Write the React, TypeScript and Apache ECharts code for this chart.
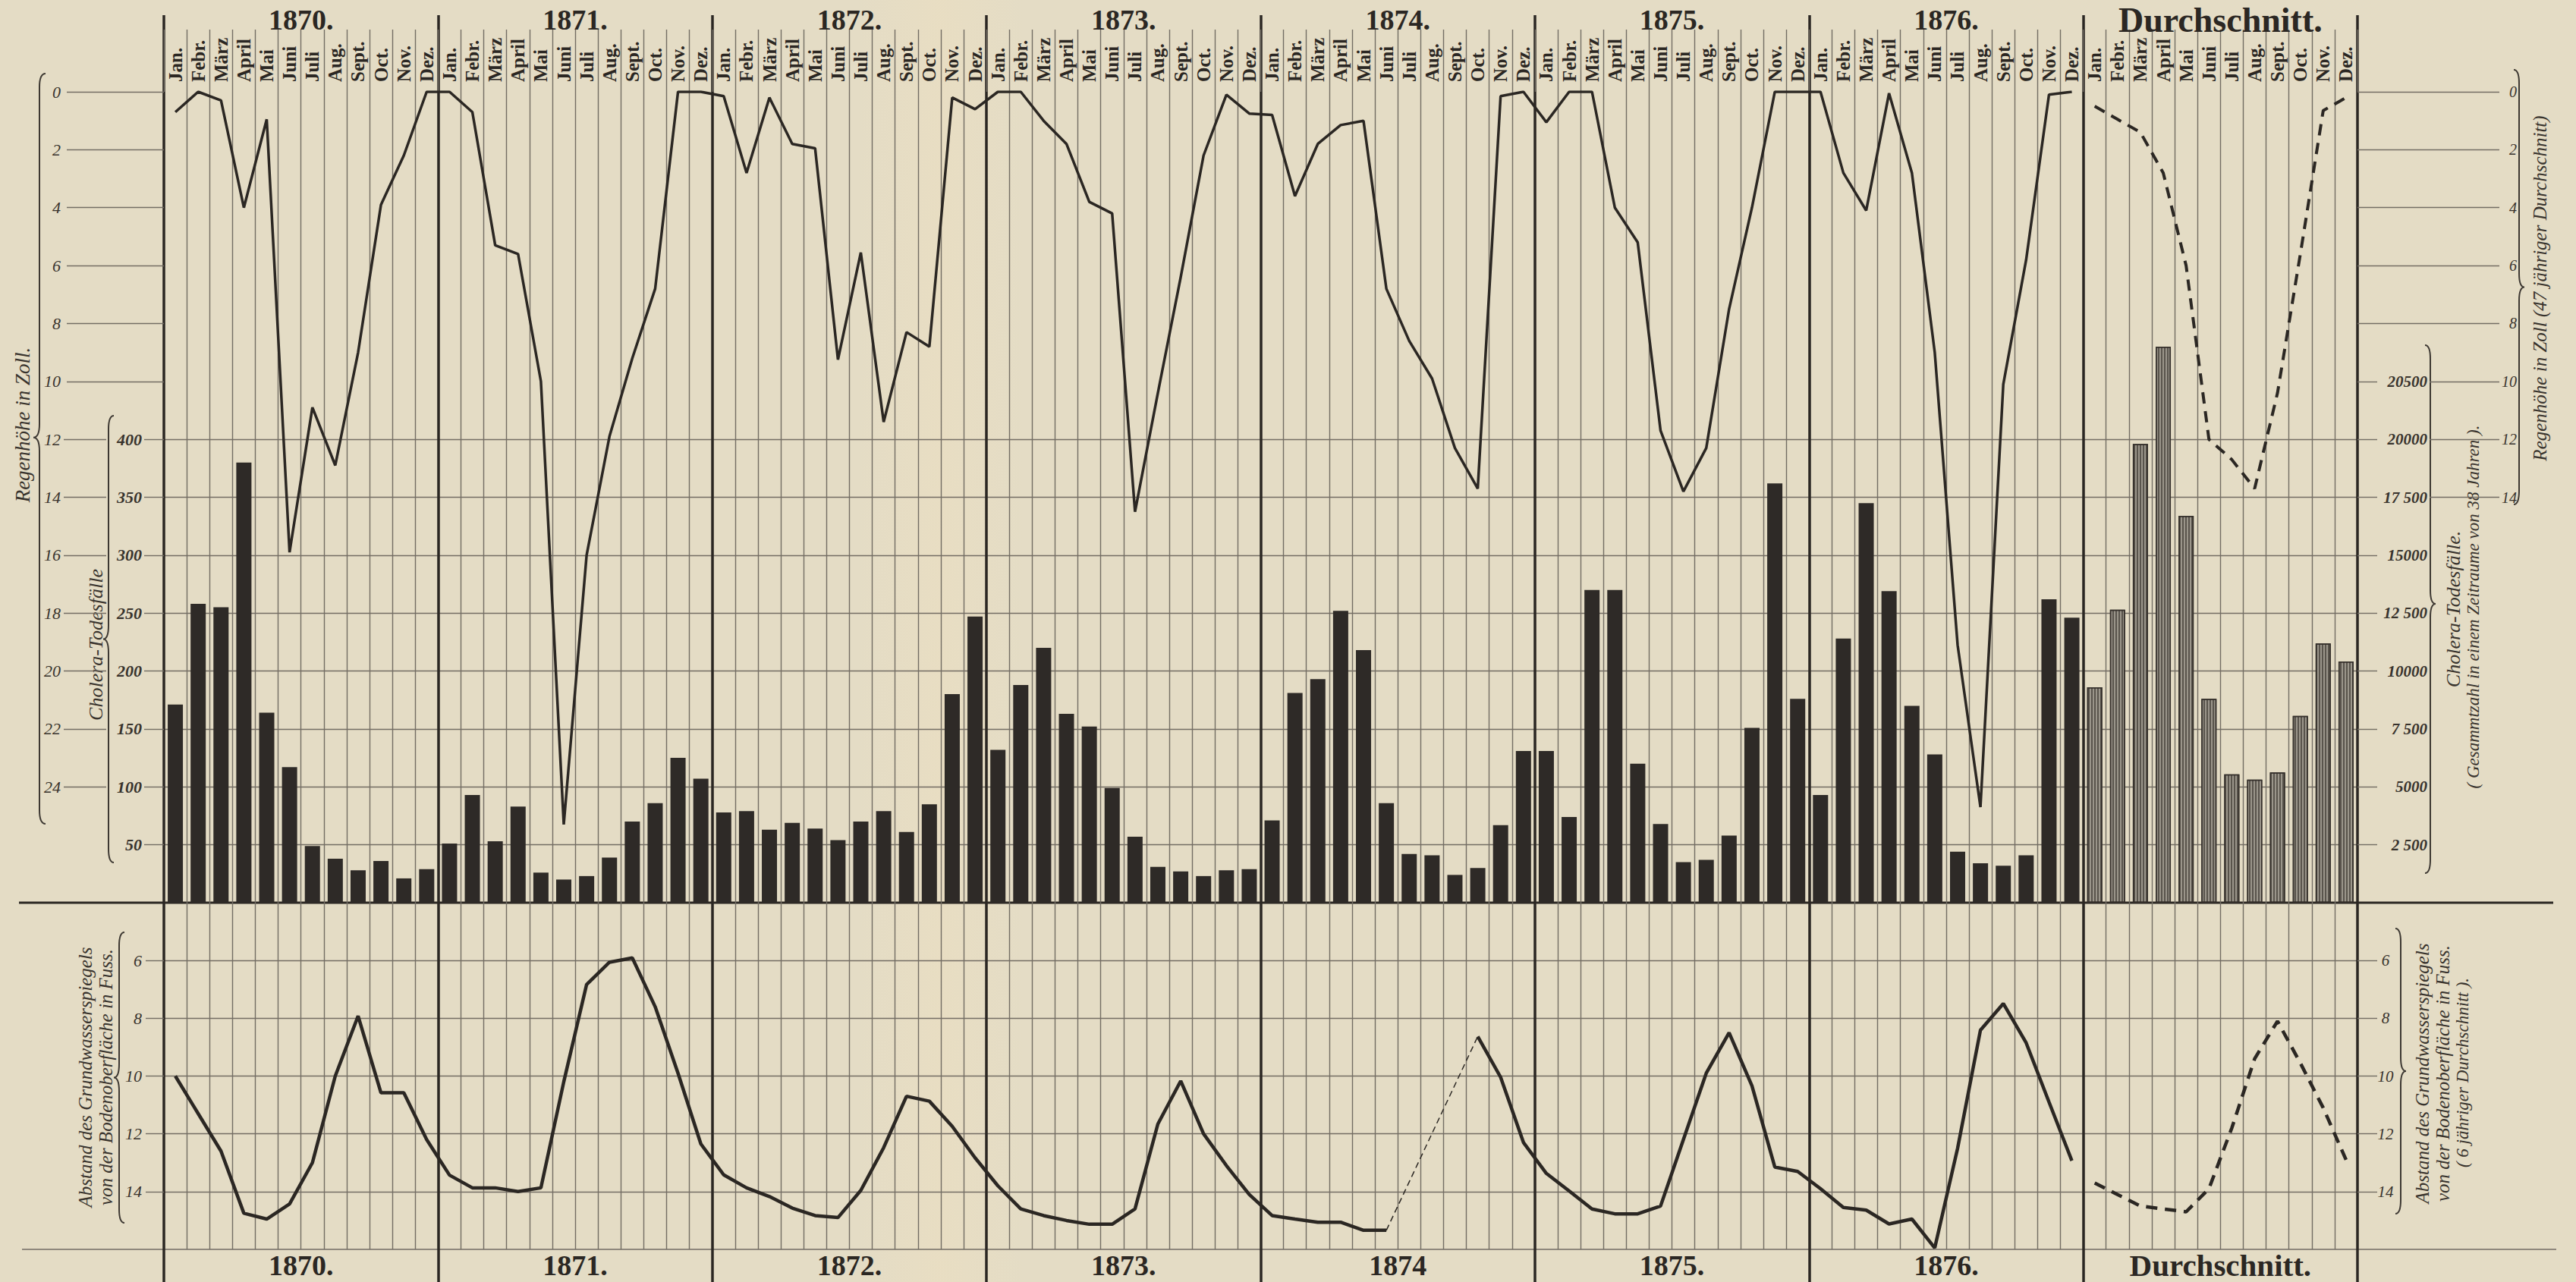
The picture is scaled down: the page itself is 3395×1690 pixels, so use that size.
import React, { useEffect, useRef } from 'react';
import * as echarts from 'echarts';

const W = 3395;
const H = 1690;
const PAPER = '#e4dcc5';
const INK = '#2b2723';
const GRID_INK = '#736d64';
const LABEL_INK = '#38332d';
const SERIF = '"Liberation Serif", "DejaVu Serif", serif';

// ---------- categories & tick labels ----------
const headerLabels = ['1870.', '1871.', '1872.', '1873.', '1874.', '1875.', '1876.', 'Durchschnitt.'];
const footerLabels = ['1870.', '1871.', '1872.', '1873.', '1874', '1875.', '1876.', 'Durchschnitt.'];
const monthNames = ['Jan.', 'Febr.', 'März', 'April', 'Mai', 'Juni', 'Juli', 'Aug.', 'Sept.', 'Oct.', 'Nov.', 'Dez.'];

const rainTicksLeftA = [0, 2, 4, 6, 8, 10];
const rainTicksLeftB = [12, 14, 16, 18, 20, 22, 24];
const choleraTicks = [50, 100, 150, 200, 250, 300, 350, 400];
const rainTicksRightA = [0, 2, 4, 6, 8];
const rainTicksRightB = [10, 12, 14];
const avgCholeraTicks = [2500, 5000, 7500, 10000, 12500, 15000, 17500, 20000, 22500];
const groundTicks = [6, 8, 10, 12, 14];

// ---------- Regenhöhe in Zoll (monthly) ----------
const rain1870 = [0.7, 0, 0.3, 4.0, 0.95, 15.9, 10.9, 12.9, 9.0, 3.9, 2.2, 0];
const rain1871 = [0, 0.7, 5.3, 5.6, 10.0, 25.3, 16.0, 11.9, 9.2, 6.8, 0, 0];
const rain1872 = [0.15, 2.8, 0.2, 1.8, 1.95, 9.25, 5.55, 11.4, 8.3, 8.8, 0.2, 0.6];
const rain1873 = [0, 0, 1.0, 1.8, 3.8, 4.2, 14.5, 10.4, 6.4, 2.2, 0.1, 0.75];
const rain1874 = [0.8, 3.6, 1.8, 1.15, 1.0, 6.8, 8.6, 9.9, 12.3, 13.7, 0.15, 0];
const rain1875 = [1.05, 0, 0, 4.0, 5.2, 11.7, 13.8, 12.3, 7.5, 4.0, 0, 0];
const rain1876 = [0, 2.8, 4.1, 0.05, 2.8, 9.0, 19.1, 24.7, 10.1, 5.8, 0.1, 0];
const rainAvg = [0.5, 0.95, 1.4, 2.8, 6.0, 12.0, 12.7, 13.7, 10.4, 5.6, 0.65, 0.2];

// ---------- Cholera-Todesfälle (monthly) ----------
const chol1870 = [171, 258, 255, 380, 164, 117, 49, 38, 28, 36, 21, 29];
const chol1871 = [51, 93, 53, 83, 26, 20, 23, 39, 70, 86, 125, 107];
const chol1872 = [78, 79, 63, 69, 64, 54, 70, 79, 61, 85, 180, 247];
const chol1873 = [132, 188, 220, 163, 152, 99, 57, 31, 27, 23, 28, 29];
const chol1874 = [71, 181, 193, 252, 218, 86, 42, 41, 24, 30, 67, 131];
const chol1875 = [131, 74, 270, 270, 120, 68, 35, 37, 58, 151, 362, 176];
const chol1876 = [93, 228, 345, 269, 170, 128, 44, 34, 32, 41, 262, 246];
const cholAvg = [9300, 12650, 19800, 24000, 16700, 8800, 5540, 5310, 5620, 8060, 11190, 10410];

// ---------- Abstand des Grundwasserspiegels (Fuss) ----------
const ground1870 = [10.0, 11.3, 12.6, 14.75, 14.95, 14.43, 13.0, 10.0, 7.92, 10.58, 10.58, 12.2];
const ground1871 = [13.43, 13.87, 13.87, 14.0, 13.87, 10.2, 6.83, 6.06, 5.91, 7.6, 9.9, 12.35];
const ground1872 = [13.42, 13.87, 14.17, 14.57, 14.83, 14.9, 13.96, 12.48, 10.7, 10.87, 11.74, 12.83];
const ground1873 = [13.8, 14.6, 14.83, 15.0, 15.13, 15.13, 14.6, 11.66, 10.17, 12.0, 13.1, 14.1];
const ground1874 = [14.83, 14.95, 15.06, 15.06, 15.34, 15.34, null, null, null, 8.63, 10.04, 12.3];
const ground1875 = [13.37, 13.98, 14.6, 14.77, 14.77, 14.5, 12.2, 9.9, 8.5, 10.34, 13.15, 13.3];
const ground1876 = [13.9, 14.55, 14.64, 15.12, 14.95, 15.95, 12.5, 8.41, 7.49, 8.85, 10.9, 12.93];
const groundAvg = [13.7, 14.1, 14.5, 14.6, 14.7, 13.9, 11.8, 9.4, 8.1, 9.55, 11.1, 12.9];

const nulls = (n: number) => Array(n).fill(null);

const monthCats = headerLabels.flatMap((y) => monthNames.map((m) => y + '|' + m));
const rainAll = [...rain1870, ...rain1871, ...rain1872, ...rain1873, ...rain1874, ...rain1875, ...rain1876];
const cholAll = [...chol1870, ...chol1871, ...chol1872, ...chol1873, ...chol1874, ...chol1875, ...chol1876];
const groundAll: (number | null)[] = [
  ...ground1870, ...ground1871, ...ground1872, ...ground1873, ...ground1874, ...ground1875, ...ground1876,
];
const groundBridge = groundAll.map((v, i) =>
  v !== null && (groundAll[i + 1] === null || groundAll[i - 1] === null) ? v : null
);

function bracePath(h: number, w: number, tipFrac: number, tipLeft: boolean) {
  const m = h * tipFrac;
  const r = Math.min(18, h * 0.05);
  const fx = (x: number) => (tipLeft ? x : w - x);
  const b = w / 2;
  return (
    `M ${fx(w)} 0 Q ${fx(b)} 0 ${fx(b)} ${r} L ${fx(b)} ${m - r} ` +
    `Q ${fx(b)} ${m} ${fx(0)} ${m} Q ${fx(b)} ${m} ${fx(b)} ${m + r} ` +
    `L ${fx(b)} ${h - r} Q ${fx(b)} ${h} ${fx(w)} ${h}`
  );
}

const braces = [
  { name: 'braceRainL', x: 44, y: 97, h: 989, w: 16, t: 0.485, left: true },
  { name: 'braceCholL', x: 136, y: 548, h: 589, w: 14, t: 0.5, left: true },
  { name: 'braceGroundL', x: 150, y: 1229, h: 383, w: 14, t: 0.5, left: true },
  { name: 'braceCholR', x: 3196, y: 455, h: 696, w: 14, t: 0.49, left: false },
  { name: 'braceRainR', x: 3313, y: 92, h: 573, w: 14, t: 0.5, left: false },
  { name: 'braceGroundR', x: 3157, y: 1224, h: 376, w: 14, t: 0.5, left: false },
];

const sideTexts = [
  { text: 'Regenhöhe in Zoll.', x: 30, y: 560, size: 27 },
  { text: 'Cholera-Todesfälle', x: 126, y: 850, size: 26 },
  { text: 'Abstand des Grundwasserspiegels', x: 112, y: 1420, size: 25 },
  { text: 'von der Bodenoberfläche in Fuss.', x: 139, y: 1420, size: 25 },
  { text: 'Cholera-Todesfälle.', x: 3233, y: 803, size: 26 },
  { text: '( Gesammtzahl in einem Zeitraume von 38 Jahren ).', x: 3259, y: 800, size: 23 },
  { text: 'Regenhöhe in Zoll (47 jähriger Durchschnitt)', x: 3347, y: 380, size: 25 },
  { text: 'Abstand des Grundwasserspiegels', x: 3192, y: 1415, size: 25 },
  { text: 'von der Bodenoberfläche in Fuss.', x: 3219, y: 1415, size: 25 },
  { text: '( 6 jähriger Durchschnitt ).', x: 3245, y: 1414, size: 23 },
];

const GRID_L = 216;
const GRID_R = W - 3107;

function buildOption(): any {
  const thinGrid = { color: GRID_INK, width: 1.4 };
  const italicLabel = (size: number, weight: string = 'normal') => ({
    fontFamily: SERIF,
    fontStyle: 'italic',
    fontWeight: weight,
    fontSize: size,
    color: LABEL_INK,
  });
  const rainScale = { type: 'value', min: 0, max: 28, interval: 2, inverse: true };
  const groundScale = { type: 'value', min: 4, max: 16, interval: 2, inverse: true };
  const noLine = { show: false };
  const yearLabel = (margin: number, bigSize: number) => ({
    interval: 0,
    margin,
    fontFamily: SERIF,
    fontWeight: 'bold',
    fontSize: 38,
    lineHeight: 34,
    color: INK,
    formatter: (v: string) => (v.length > 6 ? '{d|' + v + '}' : v),
    rich: { d: { fontFamily: SERIF, fontWeight: 'bold', fontSize: bigSize, lineHeight: 34, color: INK } },
  });

  const graphics: any[] = [
    {
      type: 'rect',
      silent: true,
      z: -100,
      shape: { x: 1130, y: 0, width: 220, height: H },
      style: {
        fill: new echarts.graphic.LinearGradient(0, 0, 1, 0, [
          { offset: 0, color: 'rgba(240,224,190,0)' },
          { offset: 0.5, color: 'rgba(240,224,190,0.35)' },
          { offset: 1, color: 'rgba(240,224,190,0)' },
        ]),
      },
    },
    { type: 'line', silent: true, shape: { x1: 25, y1: 1190, x2: 3365, y2: 1190 }, style: { stroke: INK, lineWidth: 3 } },
    { type: 'line', silent: true, shape: { x1: 29, y1: 1647, x2: 3369, y2: 1647 }, style: { stroke: GRID_INK, lineWidth: 1.6 } },
  ];
  braces.forEach((b) => {
    graphics.push({ type: b.name, x: b.x, y: b.y, silent: true, style: { stroke: '#3d3832', lineWidth: 2, fill: 'none' } });
  });
  sideTexts.forEach((t) => {
    graphics.push({
      type: 'text',
      x: t.x,
      y: t.y,
      rotation: Math.PI / 2,
      silent: true,
      style: {
        text: t.text,
        fontFamily: SERIF,
        fontStyle: 'italic',
        fontSize: t.size,
        fill: LABEL_INK,
        align: 'center',
        verticalAlign: 'middle',
      },
    });
  });

  return {
    animation: false,
    backgroundColor: PAPER,
    grid: [
      { left: GRID_L, right: GRID_R, top: 121, height: 1069 },
      { left: GRID_L, right: GRID_R, top: 1190, height: 457 },
      { left: GRID_L, right: GRID_R, top: 20, height: 1670 },
    ],
    xAxis: [
      {
        gridIndex: 0,
        type: 'category',
        data: monthCats,
        position: 'top',
        boundaryGap: true,
        axisLine: noLine,
        axisTick: { show: true, interval: 0, length: 82, lineStyle: thinGrid },
        axisLabel: {
          interval: 0,
          rotate: 90,
          margin: 13,
          formatter: (v: string) => v.split('|')[1],
          fontFamily: SERIF,
          fontWeight: 'bold',
          fontSize: 25,
          color: INK,
        },
        splitLine: { show: true, interval: 0, lineStyle: thinGrid },
      },
      {
        gridIndex: 0,
        type: 'category',
        data: headerLabels,
        position: 'top',
        boundaryGap: true,
        axisLine: noLine,
        axisTick: { show: false },
        splitLine: { show: false },
        axisLabel: yearLabel(78, 46),
      },
      {
        gridIndex: 1,
        type: 'category',
        data: monthCats,
        position: 'bottom',
        boundaryGap: true,
        axisLine: noLine,
        axisTick: { show: false },
        axisLabel: { show: false },
        splitLine: { show: true, interval: 0, lineStyle: thinGrid },
      },
      {
        gridIndex: 1,
        type: 'category',
        data: footerLabels,
        position: 'bottom',
        boundaryGap: true,
        axisLine: noLine,
        axisTick: { show: false },
        splitLine: { show: false },
        axisLabel: yearLabel(4, 41),
      },
      {
        gridIndex: 2,
        type: 'category',
        data: headerLabels,
        boundaryGap: true,
        axisLine: noLine,
        axisTick: { show: false },
        axisLabel: { show: false },
        splitLine: { show: true, interval: 0, lineStyle: { color: INK, width: 3.5 } },
      },
    ],
    yAxis: [
      {
        gridIndex: 0, ...rainScale, position: 'left', offset: 0,
        axisLine: noLine, splitLine: { show: false },
        axisTick: { show: true, customValues: rainTicksLeftA, length: 128, lineStyle: thinGrid },
        axisLabel: { customValues: rainTicksLeftA, margin: 136, ...italicLabel(22) },
      },
      {
        gridIndex: 0, ...rainScale, position: 'left', offset: 76,
        axisLine: noLine, splitLine: { show: false },
        axisTick: { show: true, customValues: rainTicksLeftB, length: 56, lineStyle: thinGrid },
        axisLabel: { customValues: rainTicksLeftB, margin: 60, ...italicLabel(22) },
      },
      {
        gridIndex: 0, type: 'value', min: 0, max: 700, interval: 50, position: 'left', offset: 0,
        axisLine: noLine,
        splitLine: { show: true, lineStyle: thinGrid },
        axisTick: { show: true, customValues: choleraTicks, length: 26, lineStyle: thinGrid },
        axisLabel: { customValues: choleraTicks, margin: 29, ...italicLabel(22, 'bold') },
      },
      {
        gridIndex: 0, ...rainScale, position: 'right', offset: 0,
        axisLine: noLine, splitLine: { show: false },
        axisTick: { show: true, customValues: rainTicksRightA, length: 187, lineStyle: thinGrid },
        axisLabel: { customValues: rainTicksRightA, margin: 210, align: 'right', ...italicLabel(20) },
      },
      {
        gridIndex: 0, ...rainScale, position: 'right', offset: 95,
        axisLine: noLine, splitLine: { show: false },
        axisTick: { show: true, customValues: rainTicksRightB, length: 92, lineStyle: thinGrid },
        axisLabel: { customValues: rainTicksRightB, margin: 115, align: 'right', ...italicLabel(20) },
      },
      {
        gridIndex: 0, type: 'value', min: 0, max: 35000, interval: 2500, position: 'right', offset: 0,
        axisLine: noLine, splitLine: { show: false },
        axisTick: { show: true, customValues: avgCholeraTicks, length: 26, lineStyle: thinGrid },
        axisLabel: {
          customValues: avgCholeraTicks,
          margin: 92,
          align: 'right',
          ...italicLabel(21, 'bold'),
          formatter: (v: number) =>
            v === 22500 ? '20500' : v % 5000 === 2500 ? Math.floor(v / 1000) + ' 500' : String(v),
        },
      },
      {
        gridIndex: 1, ...groundScale, position: 'left', offset: 0,
        axisLine: noLine,
        splitLine: { show: true, lineStyle: thinGrid },
        axisTick: { show: true, customValues: groundTicks, length: 24, lineStyle: thinGrid },
        axisLabel: { customValues: groundTicks, margin: 29, ...italicLabel(22) },
      },
      {
        gridIndex: 1, ...groundScale, position: 'right', offset: 0,
        axisLine: noLine, splitLine: { show: false },
        axisTick: { show: true, customValues: groundTicks, length: 26, lineStyle: thinGrid },
        axisLabel: { customValues: groundTicks, margin: 37, align: 'center', ...italicLabel(21) },
      },
      { gridIndex: 2, type: 'value', show: false },
    ],
    series: [
      {
        name: 'Cholera-Todesfälle',
        type: 'bar',
        xAxisIndex: 0,
        yAxisIndex: 2,
        data: [...cholAll, ...nulls(12)],
        barWidth: 20,
        barGap: '-100%',
        itemStyle: { color: '#2e2a27' },
        silent: true,
        z: 3,
      },
      {
        name: 'Cholera-Todesfälle (Durchschnitt)',
        type: 'bar',
        xAxisIndex: 0,
        yAxisIndex: 5,
        data: [...nulls(84), ...cholAvg],
        barWidth: 20,
        barGap: '-100%',
        itemStyle: {
          color: '#9a958a',
          borderColor: '#36312c',
          borderWidth: 1.5,
          decal: {
            symbol: 'rect',
            symbolSize: 1,
            dashArrayX: [2, 2],
            dashArrayY: [4, 0],
            rotation: 0,
            color: 'rgba(45,40,35,0.6)',
          },
        },
        silent: true,
        z: 3,
      },
      {
        name: 'Regenhöhe',
        type: 'line',
        xAxisIndex: 0,
        yAxisIndex: 0,
        data: [...rainAll, ...nulls(12)],
        symbol: 'none',
        lineStyle: { color: INK, width: 3.5 },
        silent: true,
        z: 5,
      },
      {
        name: 'Regenhöhe (Durchschnitt)',
        type: 'line',
        xAxisIndex: 0,
        yAxisIndex: 3,
        data: [...nulls(84), ...rainAvg],
        symbol: 'none',
        lineStyle: { color: INK, width: 4, type: [15, 10] },
        silent: true,
        z: 5,
      },
      {
        name: 'Grundwasser',
        type: 'line',
        xAxisIndex: 2,
        yAxisIndex: 6,
        data: [...groundAll, ...nulls(12)],
        symbol: 'none',
        connectNulls: false,
        lineStyle: { color: INK, width: 4.5 },
        silent: true,
        z: 5,
      },
      {
        name: 'Grundwasser (Lücke)',
        type: 'line',
        xAxisIndex: 2,
        yAxisIndex: 6,
        data: [...groundBridge, ...nulls(12)],
        symbol: 'none',
        connectNulls: true,
        lineStyle: { color: INK, width: 1.5, type: [8, 5] },
        silent: true,
        z: 5,
      },
      {
        name: 'Grundwasser (Durchschnitt)',
        type: 'line',
        xAxisIndex: 2,
        yAxisIndex: 7,
        data: [...nulls(84), ...groundAvg],
        symbol: 'none',
        lineStyle: { color: INK, width: 4.5, type: [15, 10] },
        silent: true,
        z: 5,
      },
    ],
    graphic: graphics,
  };
}

export default function App() {
  const ref = useRef<HTMLDivElement>(null);
  useEffect(() => {
    if (!ref.current) return;
    braces.forEach((b) => {
      echarts.graphic.registerShape(b.name, echarts.graphic.extendPath(bracePath(b.h, b.w, b.t, b.left), {}) as any);
    });
    const chart = echarts.init(ref.current, null, { renderer: 'svg', width: W, height: H });
    chart.setOption(buildOption());
    return () => chart.dispose();
  }, []);
  return (
    <div
      ref={ref}
      style={{ position: 'fixed', left: 0, top: 0, width: W, height: H, background: PAPER }}
    />
  );
}
